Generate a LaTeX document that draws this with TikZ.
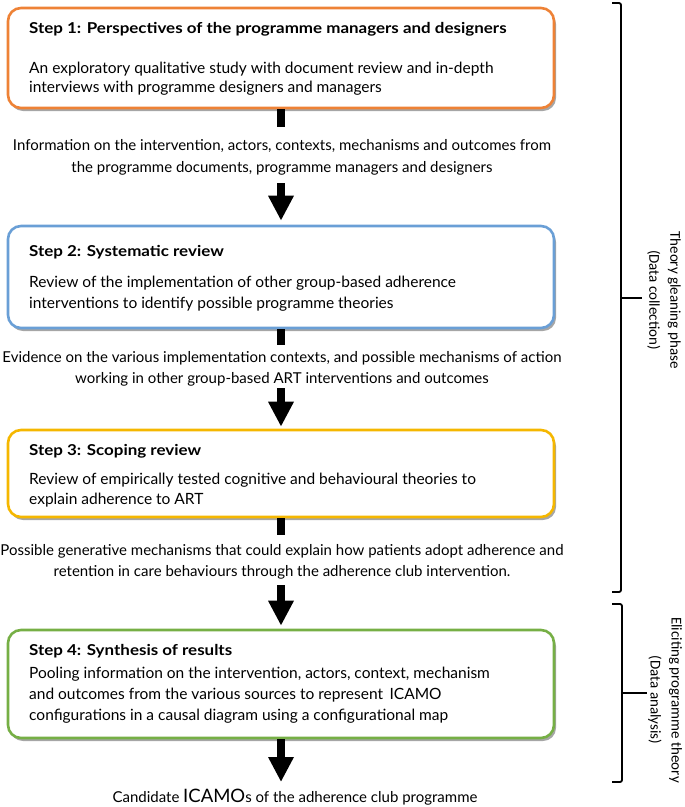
\documentclass[tikz,border=0pt]{standalone}
\usepackage{fontspec}
\setmainfont{Lato}
\newfontfamily\boldwide[FakeStretch=1.13]{Lato Bold}
\newfontfamily\bracefont{Carlito}
\usetikzlibrary{arrows.meta,shadows}
\definecolor{cOrange}{HTML}{EE8236}
\definecolor{cBlue}{HTML}{6A9FD6}
\definecolor{cGold}{HTML}{F5B700}
\definecolor{cGreen}{HTML}{76AF45}
\begin{document}
\begin{tikzpicture}[x=1pt,y=-1pt,
  stepbox/.style={draw, line width=2.6pt, rounded corners=13pt, fill=white,
    minimum width=546pt, inner sep=0pt,
    drop shadow={shadow xshift=2pt, shadow yshift=-3pt, opacity=0.35, fill=black}},
  ttl/.style={anchor=base west, inner sep=0pt, font=\boldwide\fontsize{15}{17}\selectfont},
  bodytxt/.style={anchor=base west, inner sep=0pt, font=\fontsize{15.5}{19}\selectfont},
  midtxt/.style={anchor=base, inner sep=0pt, font=\fontsize{15}{18}\selectfont},
  bar/.style={line width=8pt},
  bigarrow/.style={line width=8pt, -{Triangle[width=24pt,length=25pt]}},
  brace/.style={line width=1.8pt, rounded corners=2pt},
  bracelbl/.style={rotate=-90, align=center, inner sep=0pt,
    font=\bracefont\fontsize{15}{21}\selectfont}
]
\useasboundingbox (0,0) rectangle (685,807);

% boxes
\node[stepbox, draw=cOrange, minimum height=100pt] (b1) at (281,58) {};
\node[stepbox, draw=cBlue, minimum height=102pt] (b2) at (281,277) {};
\node[stepbox, draw=cGold, minimum height=87pt] (b3) at (281,473.5) {};
\node[stepbox, draw=cGreen, minimum height=108pt] (b4) at (281,684) {};

% box texts
\node[ttl] (b1t) at (29,33) {Step 1: Perspectives of the programme managers and designers};
\node[bodytxt] (b1l1) at (29,73) {An exploratory qualitative study with document review and in-depth};
\node[bodytxt] (b1l2) at (29,92) {interviews with programme designers and managers};

\node[ttl] (b2t) at (29,256) {Step 2: Systematic review};
\node[bodytxt] (b2l1) at (29,287) {Review of the implementation of other group-based adherence};
\node[bodytxt] (b2l2) at (29,308) {interventions to identify possible programme theories};

\node[ttl] (b3t) at (29,455) {Step 3: Scoping review};
\node[bodytxt] (b3l1) at (29,484) {Review of empirically tested cognitive and behavioural theories to};
\node[bodytxt] (b3l2) at (29,504) {explain adherence to ART};

\node[ttl] (b4t) at (29,655) {Step 4: Synthesis of results};
\node[bodytxt] (b4l1) at (29,678) {Pooling information on the intervention, actors, context, mechanism};
\node[bodytxt] (b4l2) at (29,699) {and outcomes from the various sources to represent\, ICAMO};
\node[bodytxt] (b4l3) at (29,720) {configurations in a causal diagram using a configurational map};

% between texts
\node[midtxt] (m1a) at (282,150) {Information on the intervention, actors, contexts, mechanisms and outcomes from};
\node[midtxt] (m1b) at (282,172) {the programme documents, programme managers and designers};
\node[midtxt] (m2a) at (282,362) {Evidence on the various implementation contexts, and possible mechanisms of action};
\node[midtxt] (m2b) at (282,383) {working in other group-based ART interventions and outcomes};
\node[midtxt] (m3a) at (282,555) {Possible generative mechanisms that could explain how patients adopt adherence and};
\node[midtxt] (m3b) at (282,576) {retention in care behaviours through the adherence club intervention.};

\node[anchor=base, inner sep=0pt, font=\fontsize{15}{17}\selectfont] (out) at (295,802)
  {Candidate {\fontsize{18.5}{20}\selectfont ICAMO}s of the adherence club programme};

% connectors
\coordinate (s1) at (281,127);
\coordinate (a1) at (281,183);
\coordinate (s2) at (281,345);
\coordinate (a2) at (281,388);
\coordinate (s3) at (281,535);
\coordinate (a3) at (281,585);
\coordinate (e4) at (281,782);
\draw[bar] (b1.south) -- (s1);
\draw[bigarrow, shorten >=4pt] (a1) -- (b2.north);
\draw[bar] (b2.south) -- (s2);
\draw[bigarrow, shorten >=2pt] (a2) -- (b3.north);
\draw[bar] (b3.south) -- (s3);
\draw[bigarrow, shorten >=3pt] (a3) -- (b4.north);
\draw[bigarrow] (b4.south) -- (e4);

% braces
\coordinate (br1a) at (612,3);
\coordinate (br1b) at (612,592);
\coordinate (br1m) at (642,298);
\draw[brace] (br1a) -- (621,3) -- (621,592) -- (br1b);
\draw[brace] (621,298) -- (br1m);
\coordinate (br2a) at (612,604);
\coordinate (br2b) at (612,782);
\coordinate (br2m) at (647,693);
\draw[brace] (br2a) -- (622,604) -- (622,782) -- (br2b);
\draw[brace] (622,693) -- (br2m);

\node[bracelbl] (lbl1) at (664,300) {Theory gleaning phase\\(Data collection)};
\node[bracelbl] (lbl2) at (665,700) {Eliciting programme theory\\(Data analysis)};
\end{tikzpicture}
\end{document}
